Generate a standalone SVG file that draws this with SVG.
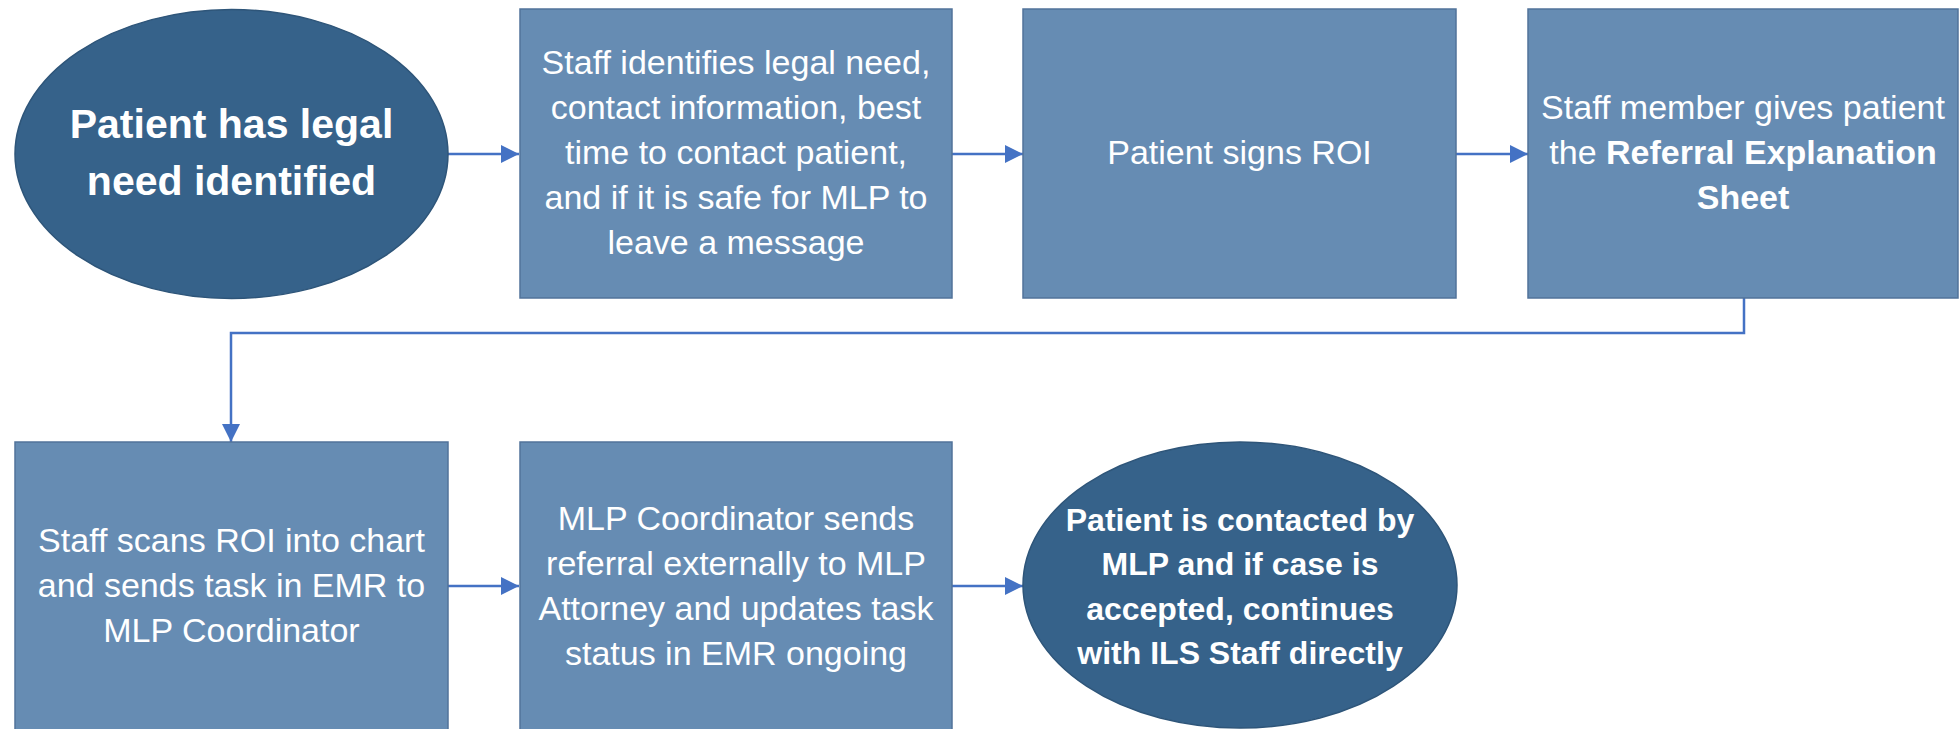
<svg xmlns="http://www.w3.org/2000/svg" width="1960" height="729" viewBox="0 0 1960 729">
<defs>
<style>
.box{fill:#668CB3;stroke:#52739A;stroke-width:1.5}
.oval{fill:#36628A;stroke:#2E5579;stroke-width:1.5}
.t{font-family:"Liberation Sans",Arial,sans-serif;font-size:34px;fill:#FFFFFF;text-anchor:middle}
.b{font-weight:bold}
.conn{fill:none;stroke:#4472C4;stroke-width:2.5}
</style>
<marker id="arr" viewBox="0 0 18 18" refX="18" refY="9" markerWidth="18" markerHeight="18" markerUnits="userSpaceOnUse" orient="auto">
<path d="M0,0 L18,9 L0,18 Z" fill="#4472C4"/>
</marker>
</defs>
<rect width="1960" height="729" fill="#FFFFFF"/>
<g id="connectors">
<line class="conn" x1="448" y1="154" x2="519" y2="154" marker-end="url(#arr)"/>
<line class="conn" x1="952" y1="154" x2="1023" y2="154" marker-end="url(#arr)"/>
<line class="conn" x1="1456" y1="154" x2="1528" y2="154" marker-end="url(#arr)"/>
<polyline class="conn" points="1744,298 1744,333 231,333 231,442" marker-end="url(#arr)"/>
<line class="conn" x1="448" y1="586" x2="519" y2="586" marker-end="url(#arr)"/>
<line class="conn" x1="952" y1="586" x2="1023" y2="586" marker-end="url(#arr)"/>
</g>
<g id="node1">
<ellipse class="oval" cx="231.5" cy="154" rx="216.5" ry="144.5"/>
<text class="t b" style="font-size:41px" x="231.5" y="138">Patient has legal</text>
<text class="t b" style="font-size:41px" x="231.5" y="195">need identified</text>
</g>
<g id="node2">
<rect class="box" x="520" y="9" width="432" height="289"/>
<text class="t" x="736" y="74">Staff identifies legal need,</text>
<text class="t" x="736" y="119">contact information, best</text>
<text class="t" x="736" y="164">time to contact patient,</text>
<text class="t" x="736" y="209">and if it is safe for MLP to</text>
<text class="t" x="736" y="254">leave a message</text>
</g>
<g id="node3">
<rect class="box" x="1023" y="9" width="433" height="289"/>
<text class="t" x="1239.5" y="164">Patient signs ROI</text>
</g>
<g id="node4">
<rect class="box" x="1528" y="9" width="430" height="289"/>
<text class="t" x="1743" y="119">Staff member gives patient</text>
<text class="t" x="1743" y="164">the <tspan class="b">Referral Explanation</tspan></text>
<text class="t b" x="1743" y="209">Sheet</text>
</g>
<g id="node5">
<rect class="box" x="15" y="442" width="433" height="290"/>
<text class="t" x="231.5" y="552">Staff scans ROI into chart</text>
<text class="t" x="231.5" y="597">and sends task in EMR to</text>
<text class="t" x="231.5" y="642">MLP Coordinator</text>
</g>
<g id="node6">
<rect class="box" x="520" y="442" width="432" height="290"/>
<text class="t" x="736" y="530">MLP Coordinator sends</text>
<text class="t" x="736" y="575">referral externally to MLP</text>
<text class="t" x="736" y="620">Attorney and updates task</text>
<text class="t" x="736" y="665">status in EMR ongoing</text>
</g>
<g id="node7">
<ellipse class="oval" cx="1240" cy="585" rx="217" ry="143"/>
<text class="t b" style="font-size:32px" x="1240" y="531">Patient is contacted by</text>
<text class="t b" style="font-size:32px" x="1240" y="575">MLP and if case is</text>
<text class="t b" style="font-size:32px" x="1240" y="620">accepted, continues</text>
<text class="t b" style="font-size:32px" x="1240" y="664">with ILS Staff directly</text>
</g>
</svg>
